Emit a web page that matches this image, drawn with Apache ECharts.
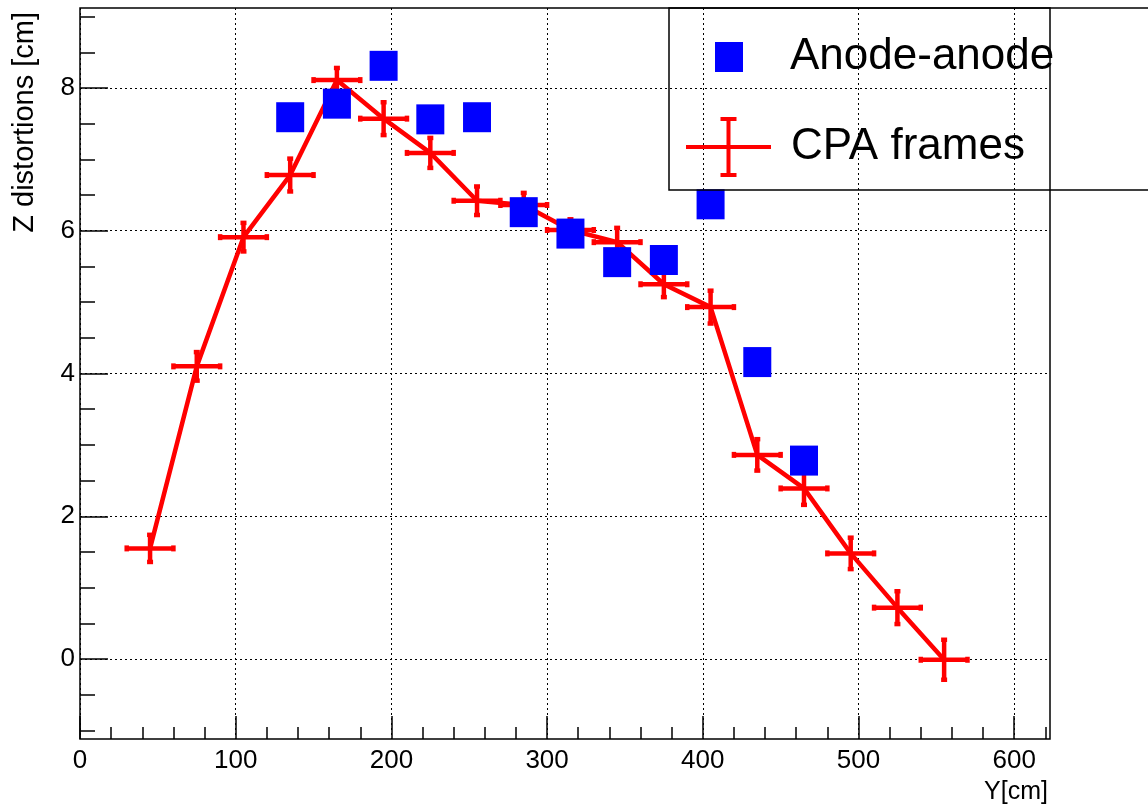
<!DOCTYPE html>
<html><head><meta charset="utf-8">
<script src="https://cdn.jsdelivr.net/npm/echarts@6/dist/echarts.min.js"></script>
<style>html,body{margin:0;padding:0;background:#fff}#c{width:1148px;height:805px}</style>
</head><body><div id="c"></div>
<script>
// ---- data ----
const cpaX    = [45, 75, 105, 135, 165, 195, 225, 255, 285, 315, 345, 375, 405, 435, 465, 495, 525, 555];
const cpaY    = [1.55, 4.10, 5.91, 6.78, 8.11, 7.57, 7.09, 6.42, 6.36, 6.01, 5.84, 5.25, 4.93, 2.86, 2.39, 1.48, 0.72, -0.01];
const cpaXErr = [15, 15, 15, 15, 15, 15, 15, 15, 15, 15, 15, 15, 15, 15, 15, 15, 15, 15];
const cpaYErr = [0.19, 0.20, 0.20, 0.23, 0.17, 0.23, 0.21, 0.20, 0.17, 0.15, 0.20, 0.18, 0.23, 0.22, 0.23, 0.22, 0.23, 0.28];
const anodeX  = [135, 165, 195, 225, 255, 285, 315, 345, 375, 405, 435, 465];
const anodeY  = [7.59, 7.78, 8.31, 7.56, 7.59, 6.26, 5.96, 5.56, 5.59, 6.37, 4.16, 2.78];
const xTicks      = [0, 100, 200, 300, 400, 500, 600];
const xMinorTicks = [20, 40, 60, 80, 120, 140, 160, 180, 220, 240, 260, 280, 320, 340, 360, 380, 420, 440, 460, 480, 520, 540, 560, 580, 620];
const yTicks      = [0, 2, 4, 6, 8];
const yMinorTicks = [-1, -0.5, 0.5, 1, 1.5, 2.5, 3, 3.5, 4.5, 5, 5.5, 6.5, 7, 7.5, 8.5, 9];
const seriesNames = ['Anode-anode', 'CPA frames'];
const xTitle = 'Y[cm]';
const yTitle = 'Z distortions [cm]';

// ---- chart ----
const chart = echarts.init(document.getElementById('c'), null, {renderer: 'canvas'});
const sans = "'Liberation Sans', Arial, sans-serif";
const XMIN = 0, XMAX = 623, YMIN = -1.12, YMAX = 9.12;
const dotted = {color: '#000', width: 1, type: [2, 3]};

const cpaData = cpaX.map((x, i) => [x, cpaY[i], cpaXErr[i], cpaYErr[i]]);
const anodeData = anodeX.map((x, i) => [x, anodeY[i]]);

const option = {
  animation: false,
  backgroundColor: '#fff',
  grid: {left: 80, top: 8, width: 970, height: 731, show: true, borderColor: '#000', borderWidth: 1.5,
         containLabel: false, outerBoundsMode: 'none'},
  graphic: [{type: 'rect', silent: true, z: 10,
    shape: {x: 669, y: 8, width: 600, height: 182},
    style: {fill: 'none', stroke: '#000', lineWidth: 1.5}}],
  legend: [
    {data: [{name: seriesNames[0], icon: 'rect'}],
     left: 715, top: 35, padding: 0, itemWidth: 28, itemHeight: 30, selectedMode: false,
     itemStyle: {color: '#0000ff'},
     textStyle: {fontFamily: sans, fontSize: 44, color: '#000', padding: [0, 0, 0, 42]}},
    {data: [{name: seriesNames[1], icon: 'path://M0,28H85V32H0ZM40.5,0H44.5V60H40.5ZM34.5,0H50.5V4H34.5ZM34.5,56H50.5V60H34.5Z'}],
     left: 686, top: 117, padding: 0, itemWidth: 85, itemHeight: 60, selectedMode: false,
     itemStyle: {color: '#ff0000'},
     textStyle: {fontFamily: sans, fontSize: 44, color: '#000', padding: [0, 0, 0, 15]}}
  ],
  xAxis: [
    {type: 'value', min: XMIN, max: XMAX, position: 'bottom',
     axisLine: {show: false, onZero: false},
     axisTick: {inside: true, length: 23, customValues: xTicks, lineStyle: {color: '#000', width: 1.5}},
     axisLabel: {customValues: xTicks, margin: 9, fontFamily: sans, fontSize: 26, color: '#000'},
     splitLine: {show: true, lineStyle: dotted},
     name: xTitle, nameLocation: 'end', nameGap: -2, nameMoveOverlap: false,
     nameTextStyle: {fontFamily: sans, fontSize: 25, color: '#000', align: 'right', verticalAlign: 'top', padding: [41, 0, 0, 0]}},
    {type: 'value', min: XMIN, max: XMAX, position: 'bottom',
     axisLine: {show: false, onZero: false},
     axisTick: {inside: true, length: 12, customValues: xMinorTicks, lineStyle: {color: '#000', width: 1.5}},
     axisLabel: {show: false}, splitLine: {show: false}}
  ],
  yAxis: [
    {type: 'value', min: YMIN, max: YMAX, position: 'left',
     axisLine: {show: false, onZero: false},
     axisTick: {inside: true, length: 28, customValues: yTicks, lineStyle: {color: '#000', width: 1.5}},
     axisLabel: {customValues: yTicks, margin: 5, fontFamily: sans, fontSize: 26, color: '#000'},
     splitLine: {show: true, lineStyle: dotted},
     name: yTitle, nameLocation: 'end', nameRotate: 90, nameGap: -4, nameMoveOverlap: false,
     nameTextStyle: {fontFamily: sans, fontSize: 29, color: '#000', align: 'right', verticalAlign: 'bottom', padding: [0, 0, 41, 0]}},
    {type: 'value', min: YMIN, max: YMAX, position: 'left',
     axisLine: {show: false, onZero: false},
     axisTick: {inside: true, length: 15, customValues: yMinorTicks, lineStyle: {color: '#000', width: 1.5}},
     axisLabel: {show: false}, splitLine: {show: false}}
  ],
  series: [
    {name: seriesNames[1], type: 'line', data: cpaData, encode: {x: 0, y: 1},
     showSymbol: false, symbol: 'none', z: 2,
     lineStyle: {color: '#ff0000', width: 4.5}, itemStyle: {color: '#ff0000'}},
    {name: seriesNames[1], type: 'custom', data: cpaData, encode: {x: 0, y: 1}, z: 3,
     itemStyle: {color: '#ff0000'},
     renderItem: function (params, api) {
       const x = api.value(0), y = api.value(1), xe = api.value(2), ye = api.value(3);
       const c = api.coord([x, y]);
       const l = api.coord([x - xe, y]), r = api.coord([x + xe, y]);
       const t = api.coord([x, y + ye]), b = api.coord([x, y - ye]);
       const cap = 3;
       const st = {stroke: '#ff0000', lineWidth: 4.5, fill: null};
       return {type: 'group', children: [
         {type: 'line', shape: {x1: l[0], y1: c[1], x2: r[0], y2: c[1]}, style: st},
         {type: 'line', shape: {x1: c[0], y1: t[1], x2: c[0], y2: b[1]}, style: st},
         {type: 'line', shape: {x1: l[0], y1: c[1] - cap, x2: l[0], y2: c[1] + cap}, style: st},
         {type: 'line', shape: {x1: r[0], y1: c[1] - cap, x2: r[0], y2: c[1] + cap}, style: st},
         {type: 'line', shape: {x1: c[0] - cap, y1: t[1], x2: c[0] + cap, y2: t[1]}, style: st},
         {type: 'line', shape: {x1: c[0] - cap, y1: b[1], x2: c[0] + cap, y2: b[1]}, style: st}
       ]};
     }},
    {name: seriesNames[0], type: 'scatter', data: anodeData, z: 5,
     symbol: 'rect', symbolSize: [28, 30], itemStyle: {color: '#0000ff', opacity: 1}}
  ]
};
chart.setOption(option);
</script>
</body></html>
